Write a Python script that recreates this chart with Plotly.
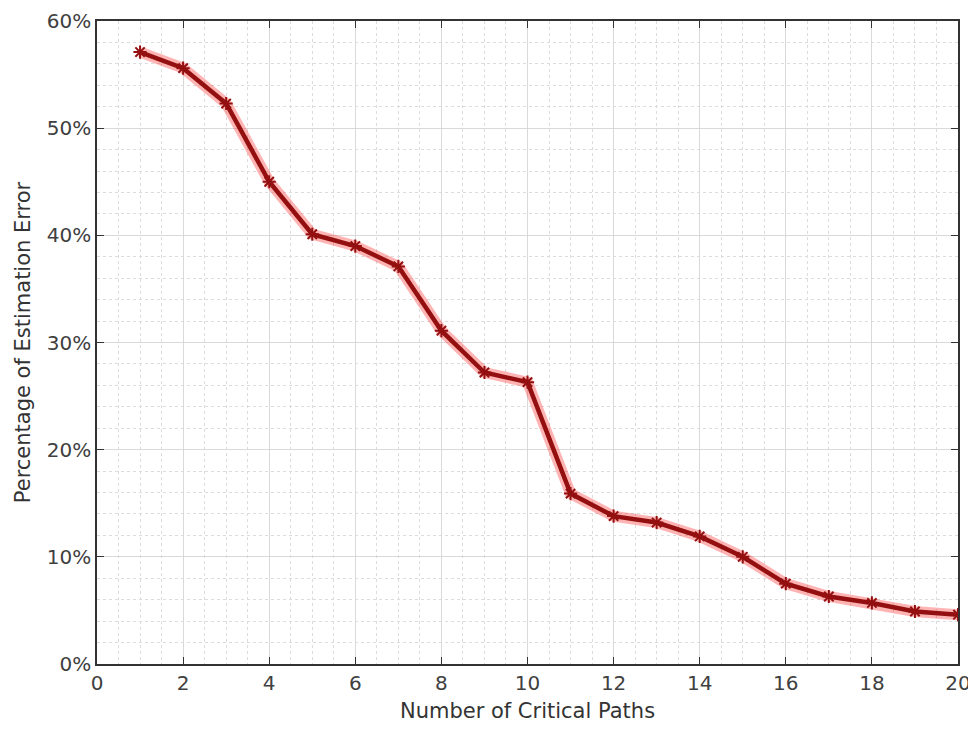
import plotly.graph_objects as go

paths = list(range(1, 21))
error_pct = [57.1, 55.6, 52.3, 45.0, 40.1, 39.0, 37.1, 31.1, 27.2, 26.3,
             15.9, 13.8, 13.2, 11.9, 10.0, 7.5, 6.3, 5.7, 4.9, 4.6]
x_ticks = list(range(0, 21, 2))
y_ticks = [0, 10, 20, 30, 40, 50, 60]
y_tick_labels = [f"{v}%" for v in y_ticks]

FONT = "DejaVu Sans, Arial, sans-serif"

fig = go.Figure()
# glow
fig.add_trace(go.Scatter(x=paths, y=error_pct, mode="lines",
                         line=dict(color="rgba(255,40,40,0.35)", width=11),
                         hoverinfo="skip", showlegend=False))
fig.add_trace(go.Scatter(x=paths, y=error_pct, mode="lines+markers",
                         line=dict(color="#941010", width=4.5),
                         marker=dict(symbol="asterisk-open", size=11,
                                     line=dict(color="#c81e1e", width=2)),
                         showlegend=False))

axis_common = dict(
    showline=True, linecolor="#333333", linewidth=1.5, mirror="ticks",
    ticks="inside", ticklen=7, tickcolor="#333333",
    showgrid=True, gridcolor="#d9d9d9", gridwidth=1,
    zeroline=False, automargin=False, ticklabeloverflow="allow",
    tickfont=dict(family=FONT, size=20, color="#404040"),
)

fig.update_xaxes(range=[0, 20], tickvals=x_ticks,
                 minor=dict(dtick=0.5, showgrid=True, gridcolor="#dcdcdc", griddash="dot", ticks=""),
                 title=dict(text="Number of Critical Paths",
                            font=dict(family=FONT, size=21, color="#333333"),
                            standoff=10),
                 **axis_common)
fig.update_yaxes(range=[0, 60], tickvals=y_ticks, ticktext=y_tick_labels,
                 minor=dict(dtick=2, showgrid=True, gridcolor="#dcdcdc", griddash="dot", ticks=""),
                 title=dict(text="Percentage of Estimation Error",
                            font=dict(family=FONT, size=21, color="#333333"),
                            standoff=10),
                 **axis_common)

fig.update_layout(width=976, height=731,
                  margin=dict(l=89, r=26, t=13, b=75),
                  plot_bgcolor="white", paper_bgcolor="white")

fig.write_html("out.html")
